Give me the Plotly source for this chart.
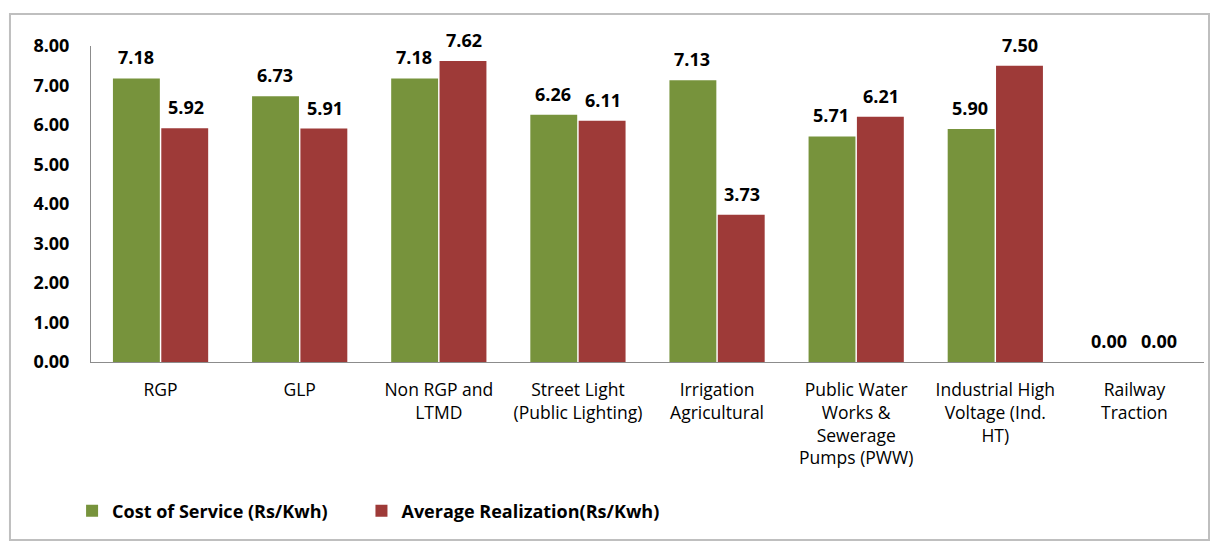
import plotly.graph_objects as go

categories = ["RGP", "GLP", "Non RGP and<br>LTMD", "Street Light<br>(Public Lighting)",
              "Irrigation<br>Agricultural", "Public Water<br>Works &<br>Sewerage<br>Pumps (PWW)",
              "Industrial High<br>Voltage (Ind.<br>HT)", "Railway<br>Traction"]
cost_of_service = [7.18, 6.73, 7.18, 6.26, 7.13, 5.71, 5.90, 0.00]
avg_realization = [5.92, 5.91, 7.62, 6.11, 3.73, 6.21, 7.50, 0.00]
y_ticks = [0, 1, 2, 3, 4, 5, 6, 7, 8]

FONT = "Open Sans"

fig = go.Figure()
fig.add_trace(go.Bar(
    name="Cost of Service (Rs/Kwh)", x=categories, y=cost_of_service,
    marker=dict(color="#77933C", line=dict(width=0)), legend="legend",
))
fig.add_trace(go.Bar(
    name="Average Realization(Rs/Kwh)", x=categories, y=avg_realization,
    marker=dict(color="#9E3A38", line=dict(width=0)), legend="legend2",
))

annotations = []
for series, shift in ((cost_of_service, -25), (avg_realization, 25)):
    for c, v in zip(categories, series):
        annotations.append(dict(
            x=c, y=v, xref="x", yref="y", text=f"{v:.2f}", showarrow=False,
            xshift=shift, yshift=21, yanchor="middle",
            font=dict(family=FONT, size=18, color="#000000", weight="bold"),
        ))

legend_style = dict(orientation="h", y=-0.4715, xanchor="left", yanchor="middle",
                    font=dict(family=FONT, size=18, weight="bold"), itemwidth=30,
                    bgcolor="rgba(0,0,0,0)")

fig.update_layout(
    width=1214, height=544,
    margin=dict(l=91, r=10, t=46, b=182, autoexpand=False),
    paper_bgcolor="white", plot_bgcolor="white",
    barmode="group", bargap=0.305, bargroupgap=0.03,
    font=dict(family=FONT, color="#000000"),
    showlegend=True,
    legend=dict(x=-0.017, **legend_style),
    legend2=dict(x=0.243, **legend_style),
    annotations=annotations,
    shapes=[dict(type="rect", xref="paper", yref="paper",
                 x0=-0.0728, x1=1.0045, y0=-0.563, y1=1.101,
                 line=dict(color="#BFBFBF", width=2), fillcolor="rgba(0,0,0,0)", layer="above")],
)
fig.update_xaxes(
    showline=True, linecolor="#8C8C8C", linewidth=1, showgrid=False, automargin=False,
    tickfont=dict(family=FONT, size=17.5), ticks="", ticklabelstandoff=12,
)
fig.update_yaxes(
    range=[0, 8], tickvals=y_ticks, ticktext=[f"{v:.2f}" for v in y_ticks],
    showline=True, linecolor="#8C8C8C", linewidth=1, showgrid=False, zeroline=False,
    automargin=False,
    tickfont=dict(family=FONT, size=18, weight="bold"), ticks="", ticklabelstandoff=17,
)

fig.write_html("out.html", config={"displayModeBar": False},
               post_script="document.body.style.margin='0';")
